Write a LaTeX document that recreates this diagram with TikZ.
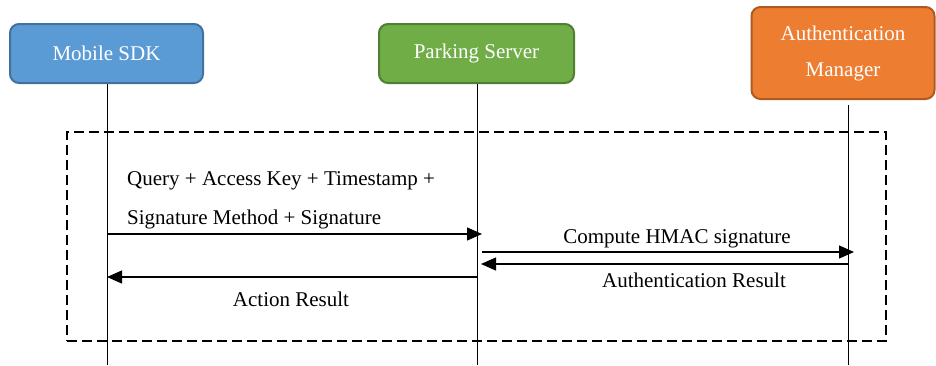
\documentclass[tikz,border=0pt]{standalone}
\usepackage{fontspec}
\setmainfont{Liberation Serif}
\usetikzlibrary{arrows.meta}
\definecolor{sdkfill}{HTML}{5B9BD5}
\definecolor{sdkdraw}{HTML}{41719C}
\definecolor{srvfill}{HTML}{70AD47}
\definecolor{srvdraw}{HTML}{507E32}
\definecolor{authfill}{HTML}{ED7D31}
\definecolor{authdraw}{HTML}{AE5A21}
\tikzset{
  actor/.style={rounded corners=9pt, line width=2pt, text=white, align=center,
    font=\fontsize{21}{36}\selectfont, inner sep=0pt},
  lifeline/.style={line width=1pt, black},
  msg/.style={line width=1.3pt, -{Triangle[length=15pt,width=13pt]}},
  msgtext/.style={font=\fontsize{21}{25}\selectfont, inner sep=0pt},
  frame/.style={line width=2.5pt, dash pattern=on 10pt off 5pt}
}
\begin{document}
\begin{tikzpicture}[x=1pt,y=-1pt]
\useasboundingbox (0,0) rectangle (936,365);
% actors
\node[actor, fill=sdkfill, draw=sdkdraw, minimum width=193pt, minimum height=59pt] (sdk) at (106.5,53.5) {Mobile SDK};
\node[actor, fill=srvfill, draw=srvdraw, minimum width=195pt, minimum height=59pt] (srv) at (476.5,53.5) {Parking Server};
\node[actor, fill=authfill, draw=authdraw, minimum width=183pt, minimum height=92pt] (auth) at (843,53) {Authentication\\Manager};
% lifelines
\coordinate (sdkend) at (107,365);
\coordinate (srvend) at (477,365);
\coordinate (authtop) at (848,105);
\coordinate (authend) at (848,365);
\draw[lifeline] (sdk.south -| sdkend) -- (sdkend);
\draw[lifeline] (srv.south -| srvend) -- (srvend);
\draw[lifeline] (authtop) -- (authend);
% frame
\node[frame, draw, minimum width=819pt, minimum height=209pt, inner sep=0pt] (frm) at (476.5,236.5) {};
% messages
\coordinate (m1a) at (107,234); \coordinate (m1b) at (482,234);
\coordinate (m2a) at (482,252); \coordinate (m2b) at (854,252);
\coordinate (m3a) at (848,264); \coordinate (m3b) at (481,264);
\coordinate (m4a) at (477,277); \coordinate (m4b) at (107,277);
\draw[msg] (m1a) -- (m1b);
\draw[msg] (m2a) -- (m2b);
\draw[msg] (m3a) -- (m3b);
\draw[msg] (m4a) -- (m4b);
% labels
\node[msgtext, anchor=west] (t1) at (127,181) {Query + Access Key + Timestamp +};
\node[msgtext, anchor=west] (t2) at (127,219) {Signature Method + Signature};
\node[msgtext] (t3) at (677,239) {Compute HMAC signature};
\node[msgtext] (t4) at (694,280) {Authentication Result};
\node[msgtext] (t5) at (291,299) {Action Result};
\end{tikzpicture}
\end{document}
